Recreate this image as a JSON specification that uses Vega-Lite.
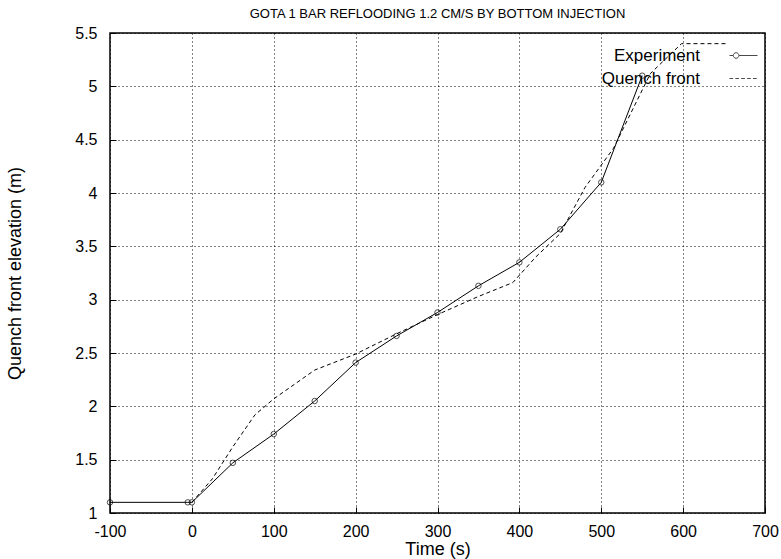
{
  "$schema": "https://vega.github.io/schema/vega-lite/v6.json",
  "width": 655,
  "height": 480,
  "autosize": {"type": "none"},
  "padding": {"left": 110, "top": 33, "right": 16, "bottom": 46},
  "background": "white",
  "title": {"text": "GOTA 1 BAR REFLOODING 1.2 CM/S BY BOTTOM INJECTION", "font": "Liberation Sans", "fontSize": 13, "fontWeight": "normal", "color": "black", "offset": 4, "anchor": "middle"},
  "config": {
    "font": "Liberation Sans",
    "view": {"stroke": "black", "strokeWidth": 1.5},
    "axis": {"labelFont": "Liberation Sans", "labelFontSize": 16, "labelColor": "black", "labelFlush": false, "labelOverlap": false, "labelExpr": "'' + datum.value", "titleFont": "Liberation Sans", "titleFontSize": 18, "titleFontWeight": "normal", "titleColor": "black", "grid": true, "gridColor": "black", "gridDash": [1, 3], "gridWidth": 1, "domain": false, "tickColor": "black", "tickSize": -6, "tickWidth": 1}
  },
  "data": {"values": [
    {"series": "Experiment", "t": -100, "z": 1.1},
    {"series": "Experiment", "t": -5, "z": 1.1},
    {"series": "Experiment", "t": 0, "z": 1.1},
    {"series": "Experiment", "t": 50, "z": 1.47},
    {"series": "Experiment", "t": 100, "z": 1.74},
    {"series": "Experiment", "t": 150, "z": 2.05},
    {"series": "Experiment", "t": 200, "z": 2.41},
    {"series": "Experiment", "t": 250, "z": 2.66},
    {"series": "Experiment", "t": 300, "z": 2.88},
    {"series": "Experiment", "t": 350, "z": 3.13},
    {"series": "Experiment", "t": 400, "z": 3.35},
    {"series": "Experiment", "t": 450, "z": 3.66},
    {"series": "Experiment", "t": 500, "z": 4.1},
    {"series": "Experiment", "t": 550, "z": 5.1},
    {"series": "Quench front", "t": 0, "z": 1.1},
    {"series": "Quench front", "t": 25, "z": 1.32},
    {"series": "Quench front", "t": 50, "z": 1.62},
    {"series": "Quench front", "t": 77, "z": 1.92},
    {"series": "Quench front", "t": 100, "z": 2.07},
    {"series": "Quench front", "t": 150, "z": 2.34},
    {"series": "Quench front", "t": 200, "z": 2.49},
    {"series": "Quench front", "t": 250, "z": 2.68},
    {"series": "Quench front", "t": 300, "z": 2.86},
    {"series": "Quench front", "t": 350, "z": 3.03},
    {"series": "Quench front", "t": 392, "z": 3.16},
    {"series": "Quench front", "t": 420, "z": 3.4},
    {"series": "Quench front", "t": 450, "z": 3.62},
    {"series": "Quench front", "t": 480, "z": 4.05},
    {"series": "Quench front", "t": 515, "z": 4.42},
    {"series": "Quench front", "t": 560, "z": 5.12},
    {"series": "Quench front", "t": 598, "z": 5.4},
    {"series": "Quench front", "t": 655, "z": 5.4}
  ]},
  "encoding": {
    "x": {"field": "t", "type": "quantitative", "scale": {"domain": [-100, 700], "nice": false}, "axis": {"values": [-100, 0, 100, 200, 300, 400, 500, 600, 700], "title": "Time (s)", "labelPadding": 16, "titlePadding": 1}},
    "y": {"field": "z", "type": "quantitative", "scale": {"domain": [1, 5.5], "nice": false, "zero": false}, "axis": {"values": [1, 1.5, 2, 2.5, 3, 3.5, 4, 4.5, 5, 5.5], "title": "Quench front elevation (m)", "labelPadding": 19, "titleX": -95, "titleY": 240, "titleBaseline": "middle", "titleAngle": -90, "titleAlign": "center"}}
  },
  "layer": [
    {
      "transform": [{"filter": "datum.series == 'Experiment'"}],
      "mark": {"type": "line", "color": "black", "strokeWidth": 1}
    },
    {
      "transform": [{"filter": "datum.series == 'Quench front'"}],
      "mark": {"type": "line", "color": "black", "strokeWidth": 1, "strokeDash": [4, 3]}
    },
    {
      "transform": [{"filter": "datum.series == 'Experiment'"}],
      "mark": {"type": "point", "shape": "circle", "filled": false, "color": "black", "size": 30, "strokeWidth": 1}
    },
    {
      "mark": {"type": "point", "filled": false, "color": "black", "strokeWidth": 1, "size": 0},
      "encoding": {
        "shape": {"field": "series", "type": "nominal", "scale": {"domain": ["Experiment", "Quench front"], "range": ["M-1,0H-0.73M-0.33,0H1M-0.73,0A0.2,0.2 0 1,1 -0.33,0A0.2,0.2 0 1,1 -0.73,0", "M-1,0H-0.74M-0.58,0H-0.32M-0.16,0H0.1M0.26,0H0.52M0.68,0H0.94"]}, "legend": {"title": null, "orient": "none", "legendX": 619, "legendY": 8, "labelFont": "Liberation Sans", "labelFontSize": 17, "labelColor": "black", "labelAlign": "right", "labelOffset": -58, "symbolSize": 784, "symbolStrokeColor": "black", "symbolStrokeWidth": 1, "symbolFillColor": "transparent", "rowPadding": -13, "padding": 0}}
      }
    }
  ]
}
